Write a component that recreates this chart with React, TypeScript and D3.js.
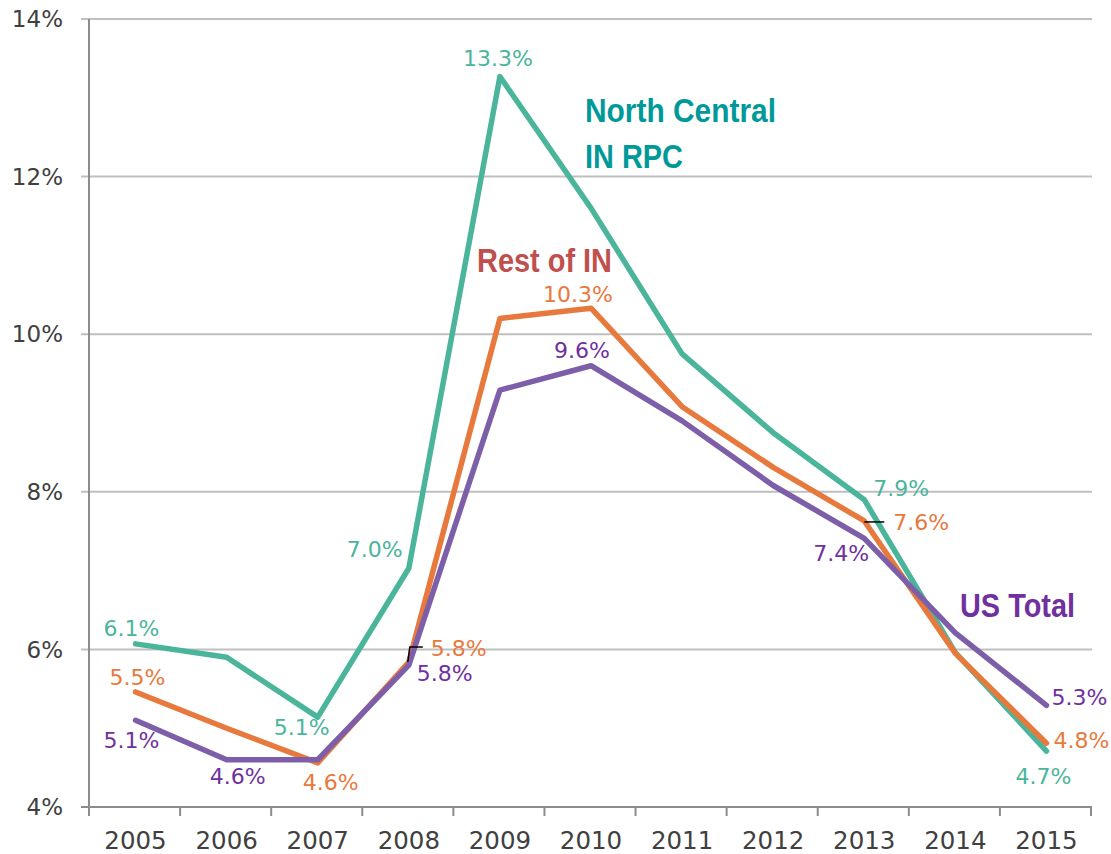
import { useMemo } from "react";
import * as d3 from "d3";

const years = ["2005", "2006", "2007", "2008", "2009", "2010", "2011", "2012", "2013", "2014", "2015"];
const northCentral = [6.07, 5.9, 5.14, 7.03, 13.27, 11.6, 9.75, 8.75, 7.9, 5.96, 4.71];
const restOfIN = [5.46, 5.0, 4.56, 5.84, 10.2, 10.33, 9.08, 8.31, 7.63, 5.95, 4.81];
const usTotal = [5.1, 4.6, 4.6, 5.8, 9.29, 9.6, 8.9, 8.08, 7.41, 6.21, 5.29];
const yTicks = [4, 6, 8, 10, 12, 14];

const W = 1111;
const H = 854;
const MARGIN = { top: 19, right: 19, bottom: 47, left: 90 };

// which points get a value label, and where it sits relative to the point
const LABELS = {
  nc: [
    { i: 0, dx: -4, dy: -16, anchor: "middle" },
    { i: 2, dx: -16, dy: 10, anchor: "middle" },
    { i: 3, dx: -34, dy: -19, anchor: "middle" },
    { i: 4, dx: -2, dy: -18, anchor: "middle" },
    { i: 8, dx: 9, dy: -12, anchor: "start" },
    { i: 10, dx: -3, dy: 25, anchor: "middle" },
  ],
  rest: [
    { i: 0, dx: 2, dy: -15, anchor: "middle" },
    { i: 2, dx: 13, dy: 19, anchor: "middle" },
    { i: 3, dx: 22, dy: -14, anchor: "start" },
    { i: 5, dx: -13, dy: -14, anchor: "middle" },
    { i: 8, dx: 29, dy: 1, anchor: "start" },
    { i: 10, dx: 7, dy: -3, anchor: "start" },
  ],
  us: [
    { i: 0, dx: -4, dy: 20, anchor: "middle" },
    { i: 1, dx: 11, dy: 16, anchor: "middle" },
    { i: 3, dx: 8, dy: 8, anchor: "start" },
    { i: 5, dx: -9, dy: -16, anchor: "middle" },
    { i: 8, dx: -23, dy: 15, anchor: "middle" },
    { i: 10, dx: 5, dy: -8, anchor: "start" },
  ],
};

const SERIES = [
  { key: "nc", values: northCentral, color: "#4bb59c" },
  { key: "rest", values: restOfIN, color: "#e8793d" },
  { key: "us", values: usTotal, color: "#7d5ea8" },
];
const LABEL_COLORS = { nc: "#4bb59c", rest: "#e8793d", us: "#7030a0" };

const FONT = "'DejaVu Sans', 'Liberation Sans', sans-serif";
const BOLD = "'Liberation Sans', Arial, sans-serif";

export default function App() {
  const innerW = W - MARGIN.left - MARGIN.right;
  const innerH = H - MARGIN.top - MARGIN.bottom;

  const x = useMemo(() => d3.scaleBand().domain(years).range([0, innerW]), [innerW]);
  const y = useMemo(() => d3.scaleLinear().domain([4, 14]).range([innerH, 0]), [innerH]);
  const cx = (i: number) => (x(years[i]) ?? 0) + x.bandwidth() / 2;

  const line = d3
    .line<number>()
    .x((_, i) => cx(i))
    .y((d) => y(d));

  const fmt = (v: number) => d3.format(".1f")(v) + "%";
  const bounds = [...years.map((yr) => x(yr) ?? 0), innerW];

  return (
    <svg width={W} height={H} style={{ position: "absolute", left: 0, top: 0, background: "#fff" }}>
      <g transform={`translate(${MARGIN.left},${MARGIN.top})`}>
        {/* gridlines */}
        {yTicks.map((t) => (
          <g key={t}>
            <line x1={-9} x2={innerW} y1={y(t)} y2={y(t)} stroke={t === 4 ? "#8c8c8c" : "#bfbfbf"} strokeWidth={2} />
            <text x={-27} y={y(t)} dy="0.36em" textAnchor="end" fontSize={23} fill="#404040" fontFamily={FONT}>
              {t}%
            </text>
          </g>
        ))}
        <line x1={-1} x2={-1} y1={0} y2={innerH} stroke="#8c8c8c" strokeWidth={2} />
        {bounds.map((b, i) => (
          <line key={i} x1={b - 1} x2={b - 1} y1={innerH} y2={innerH + 9} stroke="#8c8c8c" strokeWidth={2} />
        ))}
        {years.map((yr, i) => (
          <text key={yr} x={cx(i)} y={innerH + 33} dy="0.36em" textAnchor="middle" fontSize={24.5} fill="#404040" fontFamily={FONT}>
            {yr}
          </text>
        ))}

        {/* series lines */}
        {SERIES.map((s) => (
          <path key={s.key} d={line(s.values) ?? ""} fill="none" stroke={s.color} strokeWidth={5.5} strokeLinejoin="round" strokeLinecap="round" />
        ))}

        {/* leader lines */}
        <path
          d={`M${cx(3) - 1},${y(restOfIN[3])} L${cx(3) + 1},${y(restOfIN[3]) - 15} L${cx(3) + 14},${y(restOfIN[3]) - 15}`}
          fill="none"
          stroke="#000"
          strokeWidth={1.5}
        />
        <line x1={cx(8)} x2={cx(8) + 20} y1={y(restOfIN[8]) + 1} y2={y(restOfIN[8]) + 1} stroke="#000" strokeWidth={1.5} />

        {/* value labels */}
        {SERIES.map((s) =>
          LABELS[s.key as keyof typeof LABELS].map((l) => (
            <text
              key={s.key + l.i}
              x={cx(l.i) + l.dx}
              y={y(s.values[l.i]) + l.dy}
              dy="0.36em"
              textAnchor={l.anchor}
              fontSize={22}
              fill={LABEL_COLORS[s.key as keyof typeof LABEL_COLORS]}
              fontFamily={FONT}
            >
              {fmt(s.values[l.i])}
            </text>
          ))
        )}
      </g>

      {/* series names */}
      <g fontSize={33} fontWeight="bold" fontFamily={BOLD}>
        <text x={585} y={122} fill="#009999" textLength={191} lengthAdjust="spacingAndGlyphs">
          North Central
        </text>
        <text x={585} y={168} fill="#009999" textLength={98} lengthAdjust="spacingAndGlyphs">
          IN RPC
        </text>
        <text x={477} y={272} fill="#c0504d" textLength={135} lengthAdjust="spacingAndGlyphs">
          Rest of IN
        </text>
        <text x={960} y={617} fill="#7030a0" textLength={115} lengthAdjust="spacingAndGlyphs">
          US Total
        </text>
      </g>
    </svg>
  );
}
